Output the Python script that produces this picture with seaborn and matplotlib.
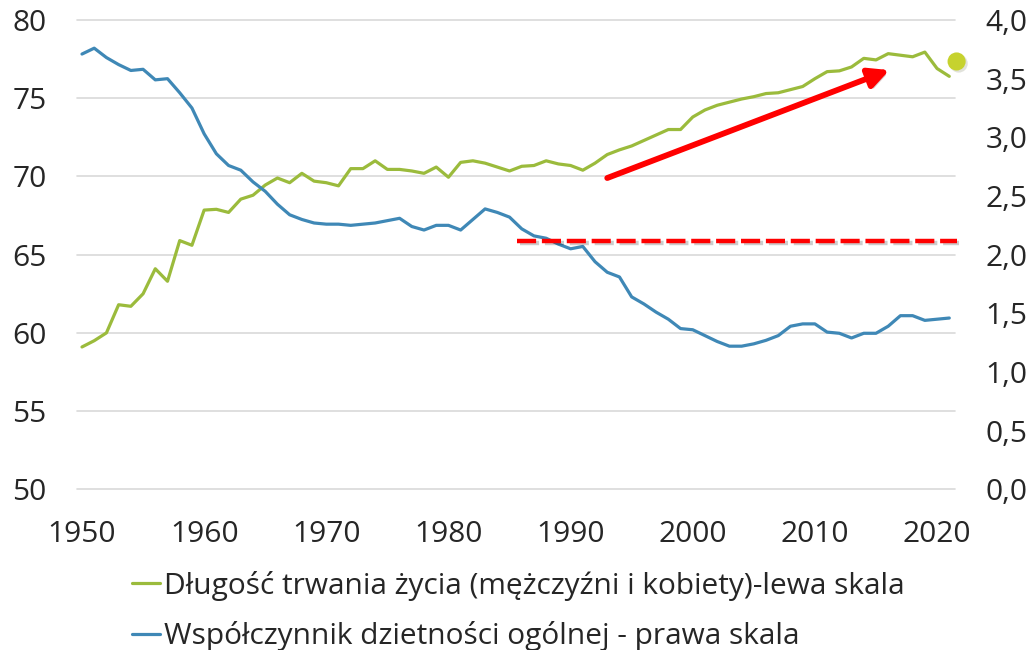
import numpy as np
import pandas as pd
import matplotlib
matplotlib.use('Agg')
import matplotlib.pyplot as plt
import matplotlib.patheffects as pe
from matplotlib.ticker import FuncFormatter
import seaborn as sns

years = list(range(1950, 2022))
life = [59.1, 59.5, 60.0, 61.8, 61.7, 62.5, 64.1, 63.3, 65.9, 65.6,
        67.85, 67.9, 67.7, 68.55, 68.8, 69.45, 69.9, 69.6, 70.2, 69.7,
        69.6, 69.4, 70.5, 70.5, 71.0, 70.45, 70.45, 70.35, 70.2, 70.6,
        69.95, 70.9, 71.0, 70.85, 70.6, 70.35, 70.65, 70.7, 71.0, 70.8,
        70.7, 70.4, 70.85, 71.4, 71.7, 71.95, 72.3, 72.65, 73.0, 73.0,
        73.8, 74.25, 74.55, 74.75, 74.95, 75.1, 75.3, 75.35, 75.55, 75.75,
        76.25, 76.7, 76.75, 77.0, 77.55, 77.45, 77.85, 77.75, 77.65, 77.95,
        76.9, 76.4]
fert = [3.71, 3.76, 3.68, 3.62, 3.57, 3.58, 3.49, 3.50, 3.38, 3.25,
        3.03, 2.86, 2.76, 2.72, 2.62, 2.54, 2.43, 2.34, 2.30, 2.27,
        2.26, 2.26, 2.25, 2.26, 2.27, 2.29, 2.31, 2.24, 2.21, 2.25,
        2.25, 2.21, 2.30, 2.39, 2.36, 2.32, 2.22, 2.16, 2.14, 2.09,
        2.05, 2.07, 1.94, 1.85, 1.81, 1.64, 1.58, 1.51, 1.45, 1.37,
        1.36, 1.31, 1.26, 1.22, 1.22, 1.24, 1.27, 1.31, 1.39, 1.41,
        1.41, 1.34, 1.33, 1.29, 1.33, 1.33, 1.39, 1.48, 1.48, 1.44,
        1.45, 1.46]

labels = ['Długość trwania życia (mężczyźni i kobiety)-lewa skala',
          'Współczynnik dzietności ogólnej - prawa skala']

# annotations
dot_year, dot_value = 2021.6, 77.35
arrow_start = (1993.0, 69.9)
arrow_end = (2016.1, 76.8)
replacement_level = 2.12
replacement_from, replacement_to = 1985.6, 2021.6

green = '#9bbb3c'
blue = '#3f88b6'
fs = 21.5

sns.set_style('white')
plt.rcParams['font.family'] = ['Open Sans', 'DejaVu Sans']

df = pd.DataFrame({'year': years, 'life': life, 'fert': fert})

fig = plt.figure(figsize=(10.32, 6.5), dpi=100)
ax = fig.add_axes([0.0746, 0.2472, 0.8508, 0.722])
ax2 = ax.twinx()

sns.lineplot(data=df, x='year', y='life', ax=ax, color=green, lw=2.3)
sns.lineplot(data=df, x='year', y='fert', ax=ax2, color=blue, lw=2.3)

ax.set_xlim(1949.59, 2021.47)
ax.set_ylim(50, 80)
ax.set_yticks(np.arange(50, 81, 5))
ax2.set_ylim(0, 4)
ax2.set_yticks(np.arange(0, 4.01, 0.5))
ax2.yaxis.set_major_formatter(FuncFormatter(lambda v, p: f'{v:.1f}'.replace('.', ',')))
ax.set_xticks(range(1950, 2021, 10))
ax.grid(axis='y', color='#d9d9d9', lw=1.2, clip_on=False)
ax.set_axisbelow(True)
ax2.grid(False)
for a in (ax, ax2):
    for s in a.spines.values():
        s.set_visible(False)
    a.set_xlabel('')
    a.set_ylabel('')
ax.tick_params(axis='y', length=0, pad=22, labelsize=fs, labelcolor='#262626')
ax2.tick_params(axis='y', length=0, pad=22, labelsize=fs, labelcolor='#262626')
ax.tick_params(axis='x', length=0, pad=22, labelsize=fs, labelcolor='#262626')

shadow = [pe.SimpleLineShadow(offset=(2, -2), alpha=0.2), pe.Normal()]

ax2.plot([replacement_from, replacement_to], [replacement_level] * 2, color='#ff0000',
         lw=3.2, dashes=(4.3, 1.3), solid_capstyle='butt', dash_capstyle='butt',
         clip_on=False, path_effects=shadow, zorder=5)

ax2.annotate('', xy=arrow_end, xytext=arrow_start,
             xycoords=ax.transData, textcoords=ax.transData,
             arrowprops=dict(arrowstyle='-|>,head_length=0.6,head_width=0.3',
                             mutation_scale=20, color='#ff0000', lw=4.2,
                             shrinkA=0, shrinkB=0,
                             path_effects=[pe.withSimplePatchShadow(offset=(2, -2), alpha=0.2)]),
             zorder=6)

ax2.scatter([dot_year], [dot_value], transform=ax.transData, s=170, color='#c6d22e',
            clip_on=False, linewidths=0, zorder=7,
            path_effects=[pe.withSimplePatchShadow(offset=(1.5, -1.5), alpha=0.15)])

handles = [plt.Line2D([], [], color=green, lw=2.3), plt.Line2D([], [], color=blue, lw=2.3)]
fig.legend(handles, labels, loc='upper left', bbox_to_anchor=(0.128, 0.122),
           frameon=False, fontsize=fs, handlelength=0.95, handletextpad=0.12,
           labelspacing=0.68, borderpad=0, borderaxespad=0, labelcolor='#262626')

fig.savefig('out.png', dpi=100)
